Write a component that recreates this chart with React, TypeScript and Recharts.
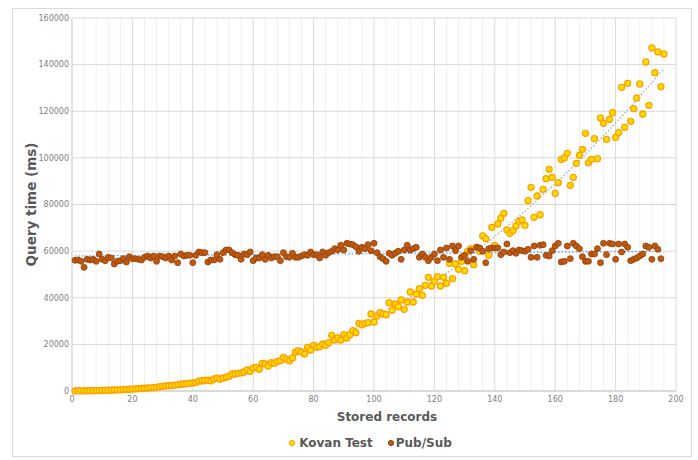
import React from "react";
import { ScatterChart, Scatter, XAxis, YAxis, CartesianGrid, Label } from "recharts";

// x = record index (1-based), y = query time in ms
const kovanTest = [
  50, 80, 60, 90, 110, 120, 150, 190, 200, 240,
  280, 330, 350, 430, 470, 520, 600, 680, 760, 840,
  900, 1010, 1080, 1180, 1290, 1350, 1480, 1590, 1850, 2000,
  2150, 2300, 2400, 2550, 2650, 2900, 3000, 3200, 3350, 3450,
  3600, 4200, 4400, 4500, 4700, 4400, 5200, 5500, 5100, 5600,
  5900, 6300, 7290, 7290, 7580, 7800, 8150, 9010, 8440, 9870,
  10150, 9300, 11870, 11580, 10725, 12150, 11870, 12730, 13010, 14440,
  13590, 13010, 14160, 16730, 17300, 16730, 15870, 18730, 17590, 19590,
  18730, 19020, 20160, 19590, 20730, 23880, 21880, 22740, 21880, 24170,
  22740, 24170, 25880, 25020, 29030, 28460, 29030, 29310, 33030, 29600,
  32170, 33600, 33030, 32750, 37890, 34750, 37320, 36180, 39040, 35030,
  38180, 42470, 38180, 41610, 43900, 41040, 45330, 48760, 45040, 47050,
  49050, 45040, 48760, 46190, 54770, 48190, 54480, 52190, 55630, 51620,
  59920, 61060, 54190, 61630, 60000, 66500, 65350, 58200, 70210, 62490,
  71640, 74220, 76220, 69070, 67640, 68780, 70780, 72790, 73360, 71070,
  81650, 87370, 74500, 83650, 75640, 86510, 91090, 95090, 91660, 84790,
  89370, 99380, 99960, 101960, 88230, 91660, 97670, 101100, 103670, 110540,
  97950, 99380, 108250, 99670, 117120, 114830, 107960, 116540, 119400, 108820,
  110820, 130270, 113110, 131980, 115680, 121120, 125700, 131700, 118830, 141140,
  122550, 147150, 136560, 145430, 130560, 144570,
];

const pubSub = [
  56050, 56200, 55620, 53050, 56480, 56200, 56480, 55620, 58770, 56480,
  55910, 57340, 57060, 54480, 55620, 55910, 56770, 55340, 57630, 56770,
  56770, 56480, 56200, 57340, 57915, 57060, 57915, 55620, 57915, 57630,
  57060, 57915, 56200, 57915, 55050, 58770, 57915, 58200, 58200, 55050,
  58200, 59630, 59340, 59340, 55340, 56200, 56200, 58490, 56480, 59340,
  60490, 60490, 59340, 58490, 58200, 56480, 58770, 58490, 59630, 55910,
  57060, 57060, 58490, 56480, 58200, 57060, 57630, 57630, 55910, 59340,
  57630, 57340, 59060, 57340, 57340, 57915, 58490, 58200, 59630, 58490,
  58490, 57060, 59630, 58200, 59340, 59920, 61060, 60490, 62490, 60490,
  63350, 63060, 62780, 61920, 59920, 61630, 61060, 62780, 60200, 63350,
  59340, 57630, 56770, 55620, 59060, 58200, 59060, 59920, 56480, 60490,
  62490, 60490, 61060, 61630, 57340, 58770, 57340, 55910, 57340, 58770,
  55910, 60490, 57340, 61350, 56480, 62200, 60200, 62200, 57340, 58200,
  55620, 60200, 56480, 61630, 61350, 59920, 55050, 61060, 61350, 61350,
  61350, 58490, 59630, 63060, 59340, 60200, 59060, 60490, 60200, 59920,
  60780, 57340, 62200, 57340, 62490, 62780, 58200, 57915, 60200, 62200,
  63350, 55340, 55620, 62200, 56770, 63350, 62200, 61060, 57630, 55620,
  55620, 58770, 58770, 61060, 55050, 63350, 58490, 63350, 63060, 56480,
  63060, 59630, 63060, 61630, 55910, 56480, 57060, 57915, 58770, 62200,
  61630, 56480, 62200, 60780, 56770,
];

// dotted trendlines: [x, y]
const kovanTrend = [
  [1, 1600], [15, 800], [30, 1650], [45, 4500], [60, 9200], [75, 15800], [90, 24300],
  [105, 34700], [120, 46900], [135, 61100], [150, 77200], [165, 95100], [180, 115000], [196, 138300],
];
const pubSubTrend = [[1, 57900], [195, 59900]];

const xTicks = [0, 20, 40, 60, 80, 100, 120, 140, 160, 180, 200];
const xMinorTicks = [
  4, 8, 12, 16, 24, 28, 32, 36, 44, 48, 52, 56, 64, 68, 72, 76, 84, 88, 92, 96,
  104, 108, 112, 116, 124, 128, 132, 136, 144, 148, 152, 156, 164, 168, 172, 176,
  184, 188, 192, 196,
];
const yTicks = [0, 20000, 40000, 60000, 80000, 100000, 120000, 140000, 160000];

const seriesNames = ["Kovan Test", "Pub/Sub"];

const FONT = "'DejaVu Sans', Verdana, sans-serif";
const KOVAN_FILL = "#ffe000";
const KOVAN_STROKE = "#ff9f00";
const PUB_FILL = "#c0590f";
const PUB_STROKE = "#8f3f08";

const kovanData = kovanTest.map((v, i) => ({ x: i + 1, y: v }));
const pubSubData = pubSub.map((v, i) => ({ x: i + 1, y: v }));
const kovanTrendData = kovanTrend.map(([x, y]) => ({ x, y }));
const pubSubTrendData = pubSubTrend.map(([x, y]) => ({ x, y }));

const dot = (fill: string, stroke: string, sw: number) => (props: any) =>
  <circle cx={props.cx} cy={props.cy} r={3} fill={fill} stroke={stroke} strokeWidth={sw} />;

const noDot = () => <g />;

export default function App() {
  return (
    <div style={{ position: "absolute", left: 0, top: 0, width: 698, height: 460, background: "#fff" }}>
      <div
        style={{
          position: "absolute", left: 12, top: 8, width: 678, height: 447,
          border: "1px solid #d9d9d9",
        }}
      />
      <div style={{ position: "absolute", left: 0, top: 0 }}>
        <ScatterChart width={698} height={460} margin={{ top: 18, right: 22, left: 12, bottom: 39 }}>
          <CartesianGrid
            stroke="#efefef"
            horizontal={false}
            verticalValues={xMinorTicks}
          />
          <CartesianGrid
            stroke="#d9d9d9"
            verticalValues={xTicks}
            horizontalValues={yTicks}
          />
          <XAxis
            type="number"
            dataKey="x"
            domain={[0, 200]}
            ticks={xTicks}
            interval={0}
            height={30}
            tickSize={0}
            tickMargin={5}
            axisLine={{ stroke: "#c8c8c8" }}
            tick={{ fontSize: 8, fill: "#808080", fontFamily: FONT }}
          >
            <Label
              content={({ viewBox }: any) => (
                <text
                  x={viewBox.x + viewBox.width / 2 + 13}
                  y={viewBox.y + 30}
                  textAnchor="middle"
                  fontFamily={FONT}
                  fontSize={12}
                  fontWeight="bold"
                  fill="#595959"
                >
                  Stored records
                </text>
              )}
            />
          </XAxis>
          <YAxis
            type="number"
            dataKey="y"
            domain={[0, 160000]}
            ticks={yTicks}
            interval={0}
            width={60}
            tickSize={0}
            tickMargin={3}
            axisLine={{ stroke: "#d9d9d9" }}
            tick={{ fontSize: 8, fill: "#808080", fontFamily: FONT }}
          >
            <Label
              content={({ viewBox }: any) => {
                const cx = 31;
                const cy = viewBox.y + viewBox.height / 2;
                return (
                  <text
                    x={cx}
                    y={cy}
                    transform={`rotate(-90, ${cx}, ${cy})`}
                    textAnchor="middle"
                    dominantBaseline="central"
                    fontFamily={FONT}
                    fontSize={13.5}
                    fontWeight="bold"
                    fill="#595959"
                  >
                    Query time (ms)
                  </text>
                );
              }}
            />
          </YAxis>
          <Scatter
            data={kovanTrendData}
            line={{ stroke: "#a6a6a6", strokeWidth: 1.2, strokeDasharray: "1.5 2" }}
            lineJointType="monotoneX"
            shape={noDot}
            legendType="none"
            isAnimationActive={false}
          />
          <Scatter
            data={pubSubTrendData}
            line={{ stroke: "#5b9bd5", strokeWidth: 1.2, strokeDasharray: "1.5 2" }}
            shape={noDot}
            legendType="none"
            isAnimationActive={false}
          />
          <Scatter name={seriesNames[0]} data={kovanData} shape={dot(KOVAN_FILL, KOVAN_STROKE, 1.3)} isAnimationActive={false} />
          <Scatter name={seriesNames[1]} data={pubSubData} shape={dot(PUB_FILL, PUB_STROKE, 0.8)} isAnimationActive={false} />
        </ScatterChart>
      </div>
      <div
        style={{
          position: "absolute", left: 0, top: 436, width: 740, display: "flex", justifyContent: "center",
          fontFamily: FONT, fontSize: 12, fontWeight: "bold", color: "#595959", gap: 14,
        }}
      >
        <span style={{ display: "flex", alignItems: "center" }}>
          <svg width={8} height={10} style={{ marginRight: 3 }}>
            <circle cx={4} cy={5} r={2.6} fill={KOVAN_FILL} stroke={KOVAN_STROKE} />
          </svg>
          {seriesNames[0]}
        </span>
        <span style={{ display: "flex", alignItems: "center" }}>
          <svg width={8} height={10} style={{ marginRight: 1 }}>
            <circle cx={4} cy={5} r={2.6} fill={PUB_FILL} stroke={PUB_STROKE} />
          </svg>
          {seriesNames[1]}
        </span>
      </div>
    </div>
  );
}
